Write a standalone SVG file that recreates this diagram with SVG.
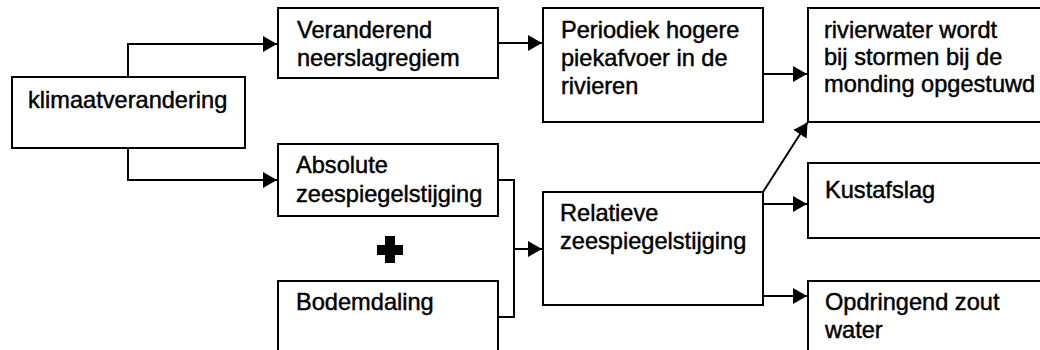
<svg xmlns="http://www.w3.org/2000/svg" width="1040" height="350" viewBox="0 0 1040 350">
<style>
.box{fill:#fff;stroke:#000;stroke-width:2}
.t{font-family:"Liberation Sans",Arial,sans-serif;font-size:23.6px;fill:#000;stroke:#000;stroke-width:0.45}
.c{fill:none;stroke:#000;stroke-width:2}
</style>
<defs>
<marker id="ah" markerUnits="userSpaceOnUse" markerWidth="14" markerHeight="16" refX="14" refY="8" orient="auto">
<path d="M0,0 L14,8 L0,16 z" fill="#000"/>
</marker>
</defs>
<rect width="1040" height="350" fill="#fff"/>
<g id="connectors">
<path class="c" d="M128,77 V44 H277" marker-end="url(#ah)"/>
<path class="c" d="M128,148 V180 H277" marker-end="url(#ah)"/>
<path class="c" d="M498,43 H542" marker-end="url(#ah)"/>
<path class="c" d="M763,74 H807" marker-end="url(#ah)"/>
<path class="c" d="M498,180 H514 V317 H498"/>
<path class="c" d="M514,249 H542" marker-end="url(#ah)"/>
<path class="c" d="M763,192 L807.5,122.5" marker-end="url(#ah)"/>
<path class="c" d="M763,204 H807" marker-end="url(#ah)"/>
<path class="c" d="M763,296 H807" marker-end="url(#ah)"/>
</g>
<g id="klimaatverandering">
<rect class="box" x="12" y="77" width="233" height="71"/>
<text class="t" x="28" y="108">klimaatverandering</text>
</g>
<g id="veranderend">
<rect class="box" x="278" y="8" width="220" height="70"/>
<text class="t" x="297" y="38">Veranderend<tspan x="297" dy="28">neerslagregiem</tspan></text>
</g>
<g id="absolute">
<rect class="box" x="278" y="144" width="220" height="72"/>
<text class="t" x="296" y="173">Absolute<tspan x="296" dy="29">zeespiegelstijging</tspan></text>
</g>
<g id="plus">
<path d="M385,236 H395 V245 H403 V255 H395 V263 H385 V255 H377 V245 H385 z" fill="#000"/>
</g>
<g id="bodemdaling">
<rect class="box" x="278" y="281" width="220" height="80"/>
<text class="t" x="296" y="310">Bodemdaling</text>
</g>
<g id="periodiek">
<rect class="box" x="543" y="8" width="220" height="114"/>
<text class="t" x="561" y="38">Periodiek hogere<tspan x="561" dy="28">piekafvoer in de</tspan><tspan x="561" dy="28">rivieren</tspan></text>
</g>
<g id="relatieve">
<rect class="box" x="543" y="192" width="220" height="113"/>
<text class="t" x="560" y="221">Relatieve<tspan x="560" dy="28">zeespiegelstijging</tspan></text>
</g>
<g id="rivierwater">
<rect class="box" x="808" y="8" width="240" height="114"/>
<text class="t" x="824" y="38">rivierwater wordt<tspan x="824" dy="27">bij stormen bij de</tspan><tspan x="824" dy="27">monding opgestuwd</tspan></text>
</g>
<g id="kustafslag">
<rect class="box" x="808" y="163" width="240" height="75"/>
<text class="t" x="825" y="198">Kustafslag</text>
</g>
<g id="opdringend">
<rect class="box" x="808" y="281" width="240" height="80"/>
<text class="t" x="825" y="310">Opdringend zout<tspan x="825" dy="28">water</tspan></text>
</g>
</svg>
